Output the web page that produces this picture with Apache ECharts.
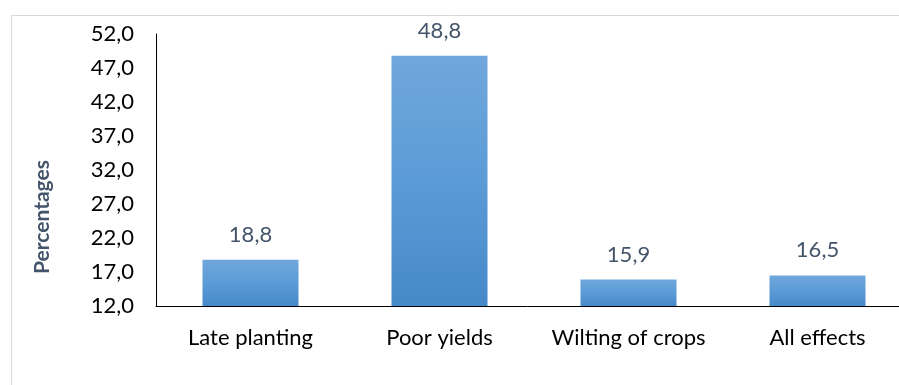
<!DOCTYPE html>
<html>
<head>
<meta charset="utf-8">
<script src="https://cdn.jsdelivr.net/npm/echarts@6/dist/echarts.min.js"></script>
<style>
  html, body { margin: 0; padding: 0; background: #fff; }
  #chart { width: 899px; height: 385px; }
</style>
</head>
<body>
<div id="chart"></div>
<script>
// Effects of late rainfall onset, share of respondents
const categories = ['Late planting', 'Poor yields', 'Wilting of crops', 'All effects'];
const percentages = [18.8, 48.8, 15.9, 16.5];
const yMin = 12;
const yMax = 52;
const yStep = 5;

const fmt = v => v.toFixed(1).replace('.', ',');
const font = 'Lato, Open Sans, sans-serif';

const chart = echarts.init(document.getElementById('chart'));
chart.setOption({
  animation: false,
  graphic: [{
    type: 'rect',
    left: 9, top: 13,
    shape: { width: 1000, height: 500 },
    style: { fill: 'none', stroke: '#d9d9d9', lineWidth: 1 },
    silent: true
  }, {
    type: 'text',
    x: 42, y: 217,
    rotation: Math.PI / 2,
    style: {
      text: 'Percentages',
      fill: '#44546a',
      fontSize: 21,
      fontWeight: 'bold',
      fontFamily: font,
      align: 'center',
      verticalAlign: 'middle'
    },
    silent: true
  }],
  grid: { left: 156, width: 756, top: 34, height: 272, outerBoundsMode: 'none' },
  xAxis: {
    type: 'category',
    data: categories,
    axisLine: { lineStyle: { color: '#000', width: 1 } },
    axisTick: { show: false },
    axisLabel: { color: '#000', fontSize: 22, fontFamily: font, margin: 21, interval: 0 }
  },
  yAxis: {
    type: 'value',
    min: yMin, max: yMax, interval: yStep,
    axisLine: { show: true, lineStyle: { color: '#000', width: 1 } },
    axisTick: { show: false },
    splitLine: { show: false },
    axisLabel: { color: '#000', fontSize: 22, fontFamily: font, margin: 22, formatter: fmt }
  },
  series: [{
    type: 'bar',
    data: percentages,
    barWidth: 96,
    itemStyle: {
      color: new echarts.graphic.LinearGradient(0, 0, 0, 1, [
        { offset: 0, color: '#70a7dc' },
        { offset: 0.5, color: '#5b9bd6' },
        { offset: 1, color: '#4689c9' }
      ])
    },
    label: {
      show: true,
      position: 'top',
      distance: 14,
      color: '#44546a',
      fontSize: 22,
      fontFamily: font,
      formatter: p => fmt(p.value)
    }
  }]
});
</script>
</body>
</html>
